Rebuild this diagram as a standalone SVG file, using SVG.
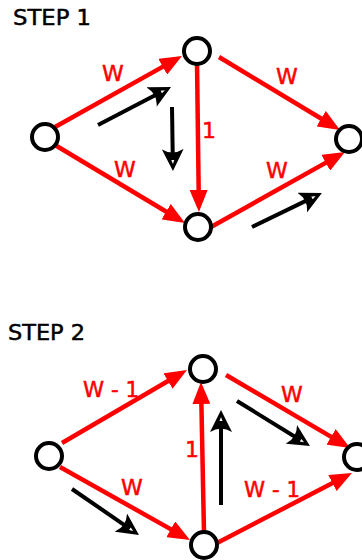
<svg xmlns="http://www.w3.org/2000/svg" width="362" height="560" viewBox="0 0 362 560">
<style>
.node{fill:#fff;stroke:#000;stroke-width:4}
.edge{stroke:#f00;stroke-width:4.5;fill:none;marker-end:url(#redhead)}
.flow{stroke:#000;stroke-width:4;fill:none;marker-end:url(#blackhead)}
</style>
<defs>
<marker id="redhead" viewBox="0 0 22 18" markerWidth="22" markerHeight="18" refX="10" refY="9" orient="auto" markerUnits="userSpaceOnUse">
<path d="M0,0 L22,9 L0,18 Z" fill="#f00"/>
</marker>
<marker id="blackhead" viewBox="0 0 22 22" markerWidth="22" markerHeight="22" refX="11" refY="11" orient="auto" markerUnits="userSpaceOnUse">
<path d="M22,11 L0,0 Q7,11 0,22 Z" fill="#000"/>
<path d="M11,9.5 L15,11 L11,12.5 Z" fill="#fff"/>
</marker>
</defs>
<rect width="362" height="560" fill="#fff"/>
<g font-family="'DejaVu Sans', Verdana, sans-serif" font-size="21" fill="#000" stroke="#000" stroke-width="0.5">
<text x="13" y="25" textLength="78" lengthAdjust="spacingAndGlyphs">STEP 1</text>
<text x="8" y="340" textLength="77" lengthAdjust="spacingAndGlyphs">STEP 2</text>
</g>
<g id="connectors">
<line class="edge" x1="55" y1="127" x2="171.5" y2="61.9"/>
<line class="edge" x1="219" y1="57" x2="329.7" y2="123.8"/>
<line class="edge" x1="197" y1="63" x2="198.8" y2="200"/>
<line class="edge" x1="55" y1="145" x2="174.7" y2="216.8"/>
<line class="edge" x1="211" y1="227" x2="334.5" y2="157.9"/>
<line class="flow" x1="98" y1="125" x2="161.3" y2="92"/>
<line class="flow" x1="172" y1="107" x2="172.8" y2="160"/>
<line class="flow" x1="252" y1="227" x2="312" y2="197.9"/>
<line class="edge" x1="62" y1="443" x2="176.6" y2="376"/>
<line class="edge" x1="226" y1="375" x2="339.7" y2="441.9"/>
<line class="edge" x1="204" y1="533" x2="201.2" y2="394"/>
<line class="edge" x1="60" y1="467" x2="179.5" y2="534.1"/>
<line class="edge" x1="217" y1="543" x2="341.3" y2="478.5"/>
<line class="flow" x1="237" y1="401" x2="300.6" y2="440.2"/>
<line class="flow" x1="221" y1="505" x2="221" y2="421"/>
<line class="flow" x1="72" y1="489" x2="129.9" y2="528.8"/>
<g font-family="'DejaVu Sans', Verdana, sans-serif" font-size="22" fill="#f00" stroke="#f00" stroke-width="0.5" text-anchor="middle">
<text x="113" y="81">W</text>
<text x="287" y="84">W</text>
<text x="209" y="138">1</text>
<text x="125" y="177">W</text>
<text x="277" y="178">W</text>
<text x="111" y="397" textLength="56" lengthAdjust="spacingAndGlyphs">W - 1</text>
<text x="292" y="402">W</text>
<text x="192" y="457">1</text>
<text x="132" y="495">W</text>
<text x="272" y="497" textLength="56" lengthAdjust="spacingAndGlyphs">W - 1</text>
</g>
</g>
<g id="s1-left"><circle class="node" cx="45" cy="137" r="13"/></g>
<g id="s1-top"><circle class="node" cx="197" cy="51" r="13"/></g>
<g id="s1-bottom"><circle class="node" cx="198" cy="227" r="13"/></g>
<g id="s1-right"><circle class="node" cx="349" cy="139" r="13"/></g>
<g id="s2-left"><circle class="node" cx="49" cy="456" r="13"/></g>
<g id="s2-top"><circle class="node" cx="203" cy="369" r="13"/></g>
<g id="s2-bottom"><circle class="node" cx="204" cy="545" r="13"/></g>
<g id="s2-right"><circle class="node" cx="357" cy="457" r="13"/></g>
</svg>
